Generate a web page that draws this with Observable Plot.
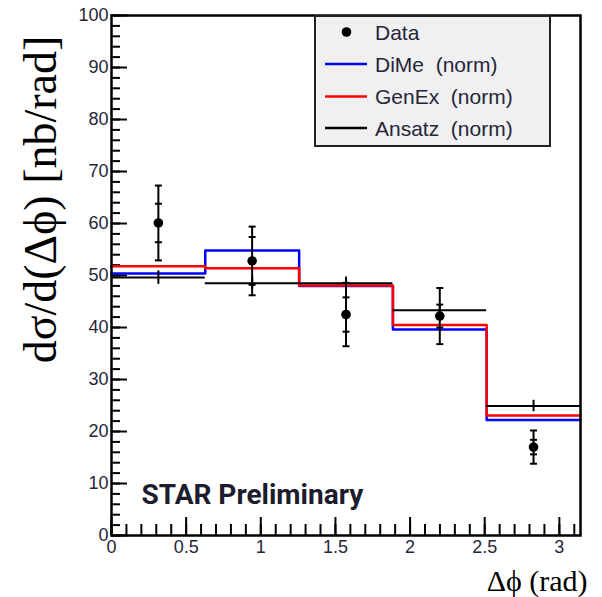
<!DOCTYPE html>
<html>
<head>
<meta charset="utf-8">
<script src="https://cdn.jsdelivr.net/npm/d3@7"></script>
<script src="https://cdn.jsdelivr.net/npm/@observablehq/plot@0.6"></script>
<style>
  html, body { margin: 0; padding: 0; background: #fff; }
  svg text { white-space: pre; }
</style>
</head>
<body>
<div id="chart"></div>
<script>
// ---- data ----
const binLow  = [0, 0.628, 1.257, 1.885, 2.513];
const binHigh = [0.628, 1.257, 1.885, 2.513, 3.1416];
const dataX   = [0.314, 0.942, 1.571, 2.199, 2.827];
const dataY   = [60.1, 52.8, 42.5, 42.2, 17.0];
const statErr = [3.7, 4.6, 3.3, 2.2, 1.4];
const totErr  = [7.2, 6.6, 6.1, 5.4, 3.2];
const dime    = [50.4, 54.8, 48.0, 39.6, 22.2];
const genex   = [51.8, 51.4, 48.1, 40.5, 23.1];
const ansatz  = [49.6, 48.5, 48.5, 43.3, 24.9];
const ansatzErr = [1.3, 1.2, 1.2, 1.1, 1.1];
const xMajor = [0, 0.5, 1, 1.5, 2, 2.5, 3];
const xMinor = d3.range(0, 3.15, 0.1);
const yMajor = [0, 10, 20, 30, 40, 50, 60, 70, 80, 90, 100];
const yMinor = d3.range(0, 101, 2);
const xTickLabels = ["0", "0.5", "1", "1.5", "2", "2.5", "3"];
const legendLabels = ["Data", "DiMe  (norm)", "GenEx  (norm)", "Ansatz  (norm)"];
const xTitle = "Δϕ (rad)";
const yTitle = "dσ/d(Δϕ) [nb/rad]";
const stamp = "STAR Preliminary";

// ---- derived tables ----
const stepOf = vals => {
  const pts = vals.map((v, i) => ({x: binLow[i], y: v}));
  pts.push({x: binHigh[vals.length - 1], y: vals[vals.length - 1]});
  return pts;
};
const ansatzBins = ansatz.map((v, i) => ({x1: binLow[i], x2: binHigh[i], xc: (binLow[i] + binHigh[i]) / 2, y: v, e: ansatzErr[i]}));
const points = dataX.map((x, i) => ({x, y: dataY[i], s: statErr[i], t: totErr[i]}));
const caps = points.flatMap(p => [p.y - p.t, p.y + p.t, p.y - p.s, p.y + p.s].map(y => ({x: p.x, y})));
const hbar = {draw(ctx, size) { const w = Math.sqrt(size / Math.PI); ctx.moveTo(-w, 0); ctx.lineTo(w, 0); }};

const W = 602, H = 597, mL = 111, mR = 22, mT = 15, mB = 62;
const fw = W - mL - mR, fh = H - mT - mB;
const sans = "'Liberation Sans', Arial, Helvetica, sans-serif";
const serif = "'Liberation Serif', 'Times New Roman', serif";
const labelColor = "#26263a";

const plot = Plot.plot({
  width: W, height: H,
  marginLeft: mL, marginRight: mR, marginTop: mT, marginBottom: mB,
  x: {domain: [0, Math.PI], axis: null},
  y: {domain: [0, 100], axis: null},
  style: {background: "white", overflow: "visible"},
  marks: [
    // ticks (inside the frame)
    Plot.tickX(xMinor, {x: d => d, insetTop: fh - 11, stroke: "black", strokeWidth: 2}),
    Plot.tickX(xMajor, {x: d => d, insetTop: fh - 18, stroke: "black", strokeWidth: 2}),
    Plot.tickY(yMinor, {y: d => d, insetRight: fw - 9, stroke: "black", strokeWidth: 2}),
    Plot.tickY(yMajor, {y: d => d, insetRight: fw - 16, stroke: "black", strokeWidth: 2}),
    // tick labels
    Plot.text(xMajor, {x: d => d, text: (d, i) => xTickLabels[i], frameAnchor: "bottom", lineAnchor: "top", dy: 5,
      fontSize: 18, fontFamily: sans, fill: labelColor}),
    Plot.text(yMajor, {y: d => d, text: d => String(d), frameAnchor: "left", textAnchor: "end", lineAnchor: "middle", dx: -3,
      fontSize: 18, fontFamily: sans, fill: labelColor}),
    // models
    Plot.line(stepOf(dime), {x: "x", y: "y", curve: "step-after", stroke: "#0000ff", strokeWidth: 2.5}),
    Plot.line(stepOf(genex), {x: "x", y: "y", curve: "step-after", stroke: "#ff0000", strokeWidth: 2.5}),
    Plot.ruleY(ansatzBins, {x1: "x1", x2: "x2", y: "y", stroke: "black", strokeWidth: 2}),
    Plot.ruleX(ansatzBins, {x: "xc", y1: d => d.y - d.e, y2: d => d.y + d.e, stroke: "black", strokeWidth: 2}),
    // data
    Plot.ruleX(points, {x: "x", y1: d => d.y - d.t, y2: d => d.y + d.t, stroke: "black", strokeWidth: 2}),
    Plot.dot(caps, {x: "x", y: "y", symbol: hbar, r: 3.5, stroke: "black", fill: "none", strokeWidth: 2}),
    Plot.dot(points, {x: "x", y: "y", r: 4.8, fill: "black", stroke: "none"}),
    // frame
    Plot.frame({stroke: "black", strokeWidth: 2.5}),
    // texts
    Plot.text([stamp], {frameAnchor: "bottom-left", textAnchor: "start", lineAnchor: "bottom", dx: 30, dy: -32,
      fontSize: 28, fontWeight: "bold", fontFamily: "Roboto, 'Liberation Sans', sans-serif", fill: "#1c1c2e"}),
    Plot.text([xTitle], {frameAnchor: "bottom-right", textAnchor: "end", lineAnchor: "bottom", dx: 7, dy: 55,
      fontSize: 30, fontFamily: serif, fill: "black"}),
    Plot.text([yTitle], {frameAnchor: "left", textAnchor: "middle", lineAnchor: "bottom", rotate: -90, dx: -56, dy: -76,
      fontSize: 46, fontFamily: serif, fill: "black"})
  ]
});

// ---- legend box inside the frame ----
const svg = d3.select(plot);
const lg = svg.append("g").attr("font-family", sans).attr("font-size", 21).attr("fill", labelColor)
  .attr("text-anchor", "start");
lg.append("rect").attr("x", 315).attr("y", 16).attr("width", 235).attr("height", 130)
  .attr("fill", "#f0f0f0").attr("stroke", "#222").attr("stroke-width", 2);
const rowY = [32, 64, 96.5, 128];
const rowColor = [null, "#0000ff", "#ff0000", "black"];
legendLabels.forEach((t, i) => {
  if (i === 0) {
    lg.append("circle").attr("cx", 346.5).attr("cy", rowY[i]).attr("r", 4.8).attr("fill", "black");
  } else {
    lg.append("line").attr("x1", 325).attr("x2", 367).attr("y1", rowY[i]).attr("y2", rowY[i])
      .attr("stroke", rowColor[i]).attr("stroke-width", 2.5);
  }
  lg.append("text").attr("x", 375).attr("y", rowY[i]).attr("dy", "0.36em").attr("text-anchor", "start").text(t);
});

document.getElementById("chart").appendChild(plot);
</script>
</body>
</html>
